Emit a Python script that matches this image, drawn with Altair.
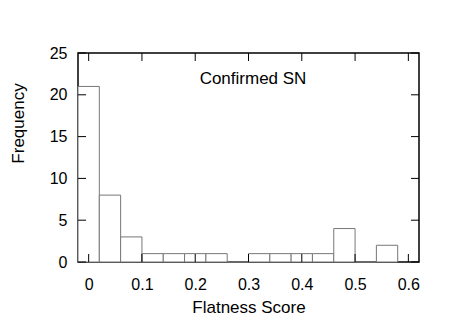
import altair as alt
import pandas as pd

# Histogram data (bin centers, width 0.04)
bin_centers = [0.00, 0.04, 0.08, 0.12, 0.16, 0.20, 0.24, 0.28, 0.32, 0.36, 0.40, 0.44, 0.48, 0.52, 0.56]
counts = [21, 8, 3, 1, 1, 1, 1, 0, 1, 1, 1, 1, 4, 0, 2]
bin_width = 0.04
x_ticks = [0, 0.1, 0.2, 0.3, 0.4, 0.5, 0.6]
y_ticks = [0, 5, 10, 15, 20, 25]
x_domain = [-0.02, 0.62]
y_domain = [0, 25]
annotation = "Confirmed SN"

W, H = 341, 209
TL = 8  # tick length in px
FONT = "Liberation Sans"

df = pd.DataFrame({"center": bin_centers, "count": counts})
df["lo"] = df["center"] - bin_width / 2
df["hi"] = df["center"] + bin_width / 2
df["zero"] = 0

xs = alt.Scale(domain=x_domain, nice=False, zero=False)
ys = alt.Scale(domain=y_domain, nice=False)

x_axis = alt.Axis(values=x_ticks, ticks=False, domain=False, grid=False,
                  labelPadding=14, format="~g", title="Flatness Score",
                  titleBaseline="alphabetic", titleY=50)
y_axis = alt.Axis(values=y_ticks, ticks=False, domain=False, grid=False,
                  labelPadding=11, title="Frequency", titleBaseline="alphabetic",
                  titleX=-55, titleY=70)

bars = alt.Chart(df).mark_rect(fill="white", stroke="#777777", strokeWidth=1).encode(
    x=alt.X("lo:Q", scale=xs, axis=x_axis),
    x2="hi:Q",
    y=alt.Y("count:Q", scale=ys, axis=y_axis),
    y2="zero:Q",
)

xt = pd.DataFrame({"v": x_ticks})
yt = pd.DataFrame({"v": y_ticks})

xb = alt.Chart(xt).mark_rule(color="black", strokeWidth=1).encode(
    x=alt.X("v:Q", scale=xs, axis=x_axis), y=alt.value(H), y2=alt.value(H - TL))
xtop = alt.Chart(xt).mark_rule(color="black", strokeWidth=1).encode(
    x=alt.X("v:Q", scale=xs, axis=x_axis), y=alt.value(0), y2=alt.value(TL))
yl = alt.Chart(yt).mark_rule(color="black", strokeWidth=1).encode(
    y=alt.Y("v:Q", scale=ys, axis=y_axis), x=alt.value(0), x2=alt.value(TL))
yr = alt.Chart(yt).mark_rule(color="black", strokeWidth=1).encode(
    y=alt.Y("v:Q", scale=ys, axis=y_axis), x=alt.value(W), x2=alt.value(W - TL))

label = alt.Chart(pd.DataFrame({"t": [annotation]})).mark_text(
    font=FONT, fontSize=17, color="black", align="center", baseline="alphabetic"
).encode(text="t:N", x=alt.value(175), y=alt.value(31))

chart = alt.layer(bars, xb, xtop, yl, yr, label).properties(
    width=W, height=H,
    autosize=alt.AutoSizeParams(type="none"),
    padding={"left": 70, "top": 45, "right": 20, "bottom": 53},
).configure_view(stroke="black", strokeWidth=1.5).configure_axis(
    labelFont=FONT, labelFontSize=16, labelColor="black",
    titleFont=FONT, titleFontSize=17, titleFontWeight="normal", titleColor="black",
)

chart.save("out.html", embed_options={"renderer": "svg", "actions": False})
